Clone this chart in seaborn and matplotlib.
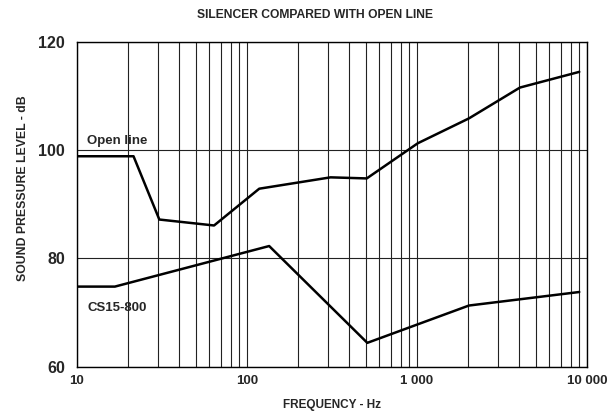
import matplotlib
matplotlib.use("Agg")
import matplotlib.pyplot as plt
import matplotlib.ticker as mticker
import numpy as np
import pandas as pd
import seaborn as sns

# Data
open_freq = [10, 21.5, 30.5, 64, 118, 310, 506, 1010, 2020, 4030, 9000]
open_db = [98.9, 98.9, 87.2, 86.1, 92.9, 95.0, 94.8, 101.3, 105.9, 111.6, 114.5]
cs_freq = [10, 16.7, 135, 510, 2020, 9000]
cs_db = [74.8, 74.8, 82.3, 64.4, 71.3, 73.8]

df = pd.concat([
    pd.DataFrame({'freq': open_freq, 'db': open_db, 'series': 'Open line'}),
    pd.DataFrame({'freq': cs_freq, 'db': cs_db, 'series': 'CS15-800'}),
])

sns.set_style("white")
plt.rcParams['font.family'] = ['Liberation Sans', 'DejaVu Sans']
plt.rcParams['font.weight'] = 'bold'

fig = plt.figure(figsize=(6.16, 4.15), dpi=100)
ax = fig.add_axes([0.125, 0.1165, 0.828, 0.782])

sns.lineplot(data=df, x='freq', y='db', units='series', estimator=None,
             color='black', linewidth=1.8, sort=False, ax=ax, legend=False)

ax.set_xscale('log')
ax.set_xlim(10, 10000)
ax.set_ylim(60, 120)

ax.xaxis.set_major_locator(mticker.FixedLocator([10, 100, 1000, 10000]))
ax.set_xticklabels(['10', '100', '1 000', '10 000'])
ax.xaxis.set_minor_locator(mticker.LogLocator(base=10, subs=np.arange(2, 10)))
ax.xaxis.set_minor_formatter(mticker.NullFormatter())
ax.set_yticks([60, 80, 100, 120])

ax.grid(True, which='both', axis='x', color='#222222', linewidth=0.8)
ax.grid(True, which='major', axis='y', color='#222222', linewidth=0.8)
ax.tick_params(axis='both', which='both', length=0)
ax.tick_params(axis='y', labelsize=11.5, pad=8.5)
ax.tick_params(axis='x', labelsize=9.5, pad=6)
for sp in ax.spines.values():
    sp.set_color('black')
    sp.set_linewidth(1.0)

ax.set_xlabel('FREQUENCY - Hz', fontsize=8.5, fontweight='bold', labelpad=9)
ax.set_ylabel('SOUND PRESSURE LEVEL - dB', fontsize=8.8, fontweight='bold')
ax.yaxis.set_label_coords(-0.095, 0.551)
fig.text(0.512, 0.963, 'SILENCER COMPARED WITH OPEN LINE', fontsize=8.7,
         fontweight='bold', ha='center', va='center')

ax.text(11.5, 101.2, 'Open line', fontsize=9.5, fontweight='bold')
ax.text(11.5, 70.3, 'CS15-800', fontsize=9.5, fontweight='bold')

fig.savefig('out.png', dpi=100)
